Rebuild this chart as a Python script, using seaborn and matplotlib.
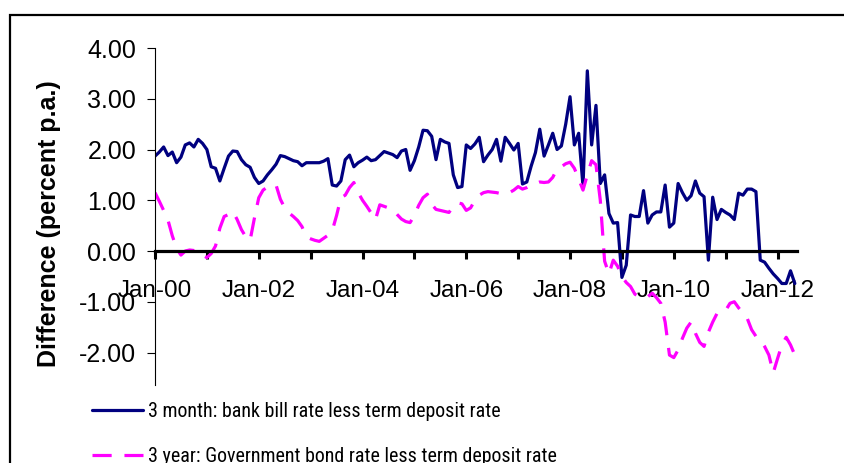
import numpy as np
import pandas as pd
import matplotlib
matplotlib.use("Agg")
import matplotlib.pyplot as plt
from matplotlib.patches import Rectangle
from matplotlib import font_manager
from matplotlib.font_manager import FontProperties
from matplotlib.textpath import TextPath
import seaborn as sns

# ---------------- data (monthly, Jan-2000 .. May-2012) ----------------
bill_less_td = [
    1.87, 1.95, 2.05, 1.88, 1.95, 1.74, 1.85, 2.09, 2.13, 2.05,
    2.20, 2.12, 2.00, 1.66, 1.63, 1.38, 1.63, 1.87, 1.97, 1.96,
    1.80, 1.70, 1.65, 1.45, 1.33, 1.38, 1.50, 1.60, 1.71, 1.88,
    1.86, 1.82, 1.78, 1.76, 1.68, 1.74, 1.74, 1.74, 1.74, 1.77,
    1.82, 1.30, 1.28, 1.38, 1.80, 1.89, 1.66, 1.74, 1.79, 1.85,
    1.78, 1.80, 1.88, 1.96, 1.93, 1.90, 1.84, 1.97, 2.00, 1.59,
    1.78, 2.05, 2.38, 2.37, 2.26, 1.80, 2.20, 2.15, 2.12, 1.50,
    1.25, 1.27, 2.09, 2.02, 2.11, 2.24, 1.76, 1.89, 2.00, 2.20,
    1.77, 2.24, 2.12, 1.99, 2.12, 1.32, 1.36, 1.67, 1.94, 2.40,
    1.87, 2.09, 2.32, 2.00, 2.07, 2.50, 3.04, 2.09, 2.32, 1.28,
    3.55, 2.09, 2.87, 1.33, 1.50, 0.74, 0.55, 0.56, -0.52, -0.28,
    0.71, 0.68, 0.68, 1.19, 0.55, 0.71, 0.77, 0.77, 1.30, 0.47,
    0.55, 1.33, 1.15, 1.00, 1.09, 1.38, 1.14, 1.07, -0.18, 1.06,
    0.62, 0.82, 0.76, 0.71, 0.62, 1.14, 1.10, 1.22, 1.22, 1.17,
    -0.18, -0.22, -0.34, -0.45, -0.54, -0.64, -0.64, -0.39, -0.64,
]

bond_less_td = [
    1.15, 0.98, 0.80, 0.61, 0.30, 0.05, -0.08, 0.00, 0.02, 0.01,
    0.00, -0.08, -0.13, -0.05, 0.10, 0.45, 0.68, 0.72, 0.78, 0.62,
    0.42, 0.28, 0.21, 0.65, 1.05, 1.20, 1.26, 1.30, 1.30, 1.02,
    0.85, 0.75, 0.68, 0.60, 0.48, 0.28, 0.24, 0.21, 0.19, 0.25,
    0.31, 0.40, 0.70, 1.05, 1.10, 1.25, 1.35, 1.15, 1.00, 0.88,
    0.75, 0.62, 0.91, 0.88, 0.85, 0.82, 0.72, 0.63, 0.58, 0.56,
    0.70, 0.90, 1.05, 1.12, 0.92, 0.82, 0.80, 0.78, 0.76, 0.88,
    0.95, 0.93, 0.80, 0.85, 1.00, 1.10, 1.15, 1.17, 1.16, 1.15,
    1.13, 1.12, 1.15, 1.20, 1.27, 1.22, 1.25, 1.30, 1.33, 1.36,
    1.35, 1.36, 1.45, 1.62, 1.66, 1.72, 1.75, 1.63, 1.42, 1.20,
    1.50, 1.78, 1.70, 1.00, -0.20, -0.45, -0.18, -0.30, -0.50, -0.62,
    -0.70, -0.85, -0.90, -0.93, -0.90, -0.83, -0.92, -1.03, -1.40, -2.05,
    -2.10, -1.95, -1.72, -1.52, -1.40, -1.62, -1.80, -1.88, -1.60, -1.40,
    -1.23, -1.17, -1.17, -1.03, -1.00, -1.12, -1.22, -1.33, -1.55, -1.68,
    -1.75, -1.88, -2.05, -2.40, -2.12, -1.85, -1.70, -1.85, -2.05,
]

months = list(range(len(bill_less_td)))
tick_months = list(range(0, 145, 12))
tick_labels = ["Jan-00", "", "Jan-02", "", "Jan-04", "", "Jan-06", "",
               "Jan-08", "", "Jan-10", "", "Jan-12"]
y_ticks = [-2, -1, 0, 1, 2, 3, 4]
series_names = ["3 month: bank bill rate less term deposit rate",
                "3 year: Government bond rate less term deposit rate"]

df = pd.DataFrame({"month": months, "bill": bill_less_td, "bond": bond_less_td})

# ---------------- style ----------------
sns.set_style("ticks")
plt.rcParams["font.family"] = ["Liberation Sans", "DejaVu Sans"]
for k in ["text.color", "axes.labelcolor", "xtick.color", "ytick.color", "axes.edgecolor"]:
    plt.rcParams[k] = "black"

# legend font: a narrow sans if one is installed
available = {(f.name, str(f.stretch)) for f in font_manager.fontManager.ttflist}
legend_prop = None
for fam, stretch in [("Liberation Sans Narrow", "normal"), ("Liberation Sans Narrow", "condensed"),
                     ("Roboto Condensed", "normal"), ("Roboto Condensed", "condensed"),
                     ("DejaVu Sans", "condensed"), ("Open Sans Condensed", "condensed"),
                     ("Open Sans", "condensed"), ("Noto Sans", "condensed")]:
    if (fam, stretch) in available:
        legend_prop = FontProperties(family=fam, stretch=stretch)
        break
if legend_prop is not None:
    w = TextPath((0, 0), series_names[0], size=15, prop=legend_prop).get_extents().width
    legend_size = float(np.clip(15 * (352 * 0.72) / w, 12, 17))
else:
    legend_prop = FontProperties(family="Liberation Sans")
    legend_size = 13.8
legend_prop.set_size(legend_size)

W, H = 845, 463
fig = plt.figure(figsize=(W / 100, H / 100), dpi=100)
ax = fig.add_axes([155 / W, 1 - 385 / H, 642 / W, 337 / H])

sns.lineplot(data=df, x="month", y="bill", color="#000080", linewidth=2.3,
             ax=ax, label=series_names[0], errorbar=None)
sns.lineplot(data=df, x="month", y="bond", color="#FF00FF", linewidth=2.3,
             ls=(0, (6, 4)), ax=ax, label=series_names[1], errorbar=None)

ax.set_xlim(0, 148.5)
ax.set_ylim(-2.64, 4.0)

ax.spines["top"].set_visible(False)
ax.spines["right"].set_visible(False)
ax.spines["bottom"].set_position(("data", 0))
ax.spines["bottom"].set_linewidth(2.3)
ax.spines["left"].set_linewidth(0.8)

ax.set_xticks(tick_months)
ax.set_xticklabels(tick_labels)
ax.set_yticks(y_ticks)
ax.set_yticklabels([f"{v:.2f}" for v in y_ticks])
ax.tick_params(axis="x", direction="out", length=6, width=2.2, pad=15.0,
               labelsize=17.5, bottom=True)
ax.tick_params(axis="y", direction="out", length=5.5, width=0.8, pad=8.0,
               labelsize=18, left=True)

ax.set_xlabel("")
ax.set_ylabel("Difference (percent p.a.)", fontsize=18, fontweight="bold")
ax.yaxis.set_label_coords(-0.147, 0.479)

handles, labels = ax.get_legend_handles_labels()
if ax.get_legend() is not None:
    ax.get_legend().remove()
hl_px, gap_px = 51, 5
em_px = legend_size * 100 / 72
fig.legend(handles, labels, loc="upper left", bbox_to_anchor=(92 / W, 1 - 402 / H),
           frameon=False, prop=legend_prop,
           handlelength=hl_px / em_px, handletextpad=gap_px / em_px,
           labelspacing=(50.5 - 1.2 * em_px) / em_px,
           borderpad=0, borderaxespad=0)

fig.add_artist(Rectangle((10 / W, -0.2), 1.5, 1 - 15 / H + 0.2, transform=fig.transFigure,
                         fill=False, edgecolor="black", linewidth=1.6))

fig.savefig("out.png", dpi=100)
